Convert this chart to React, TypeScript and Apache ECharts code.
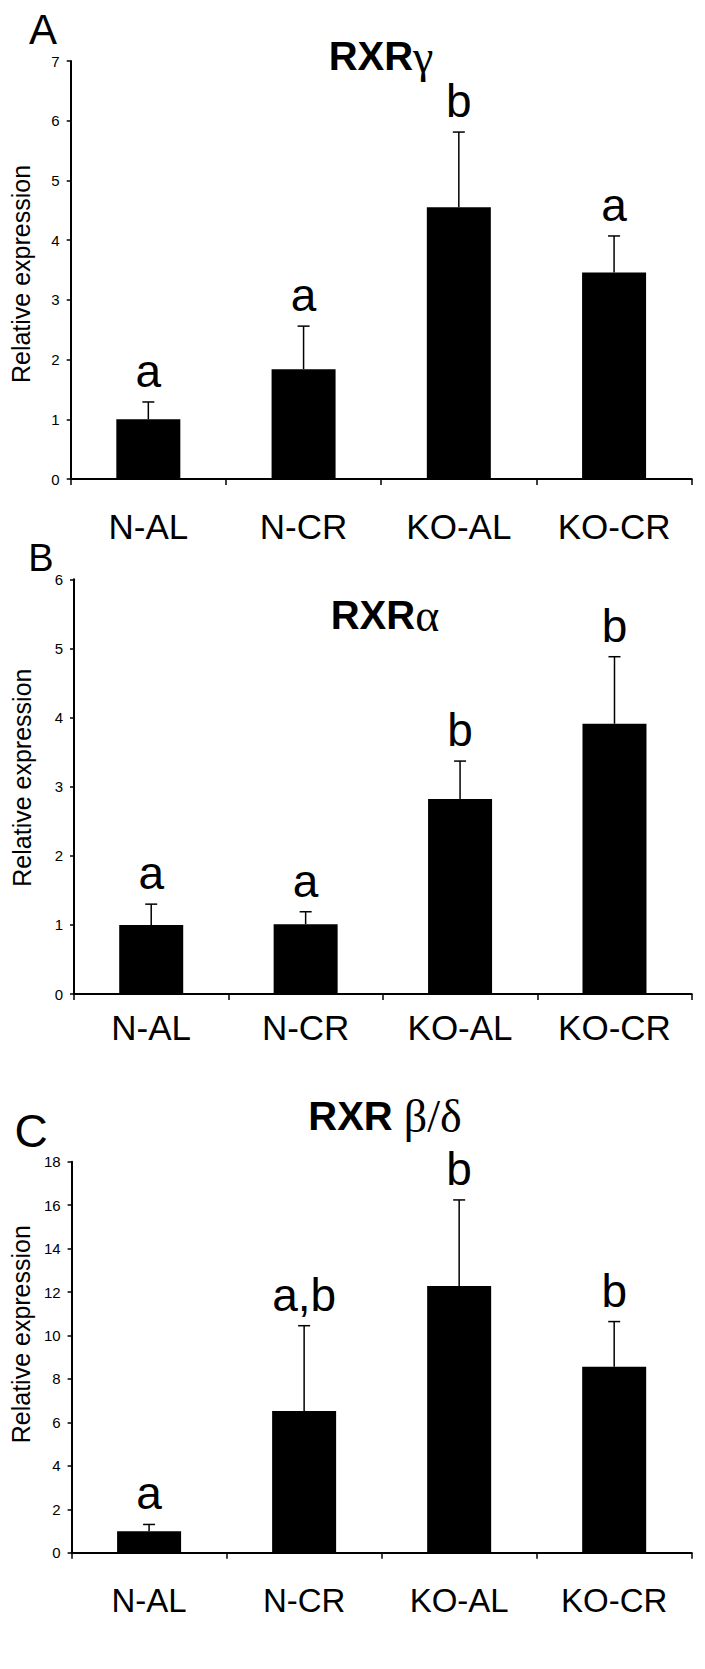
import React, { useEffect, useRef } from 'react';
import * as echarts from 'echarts';

// ---- data ----
const categories = ['N-AL', 'N-CR', 'KO-AL', 'KO-CR'];

const gammaMean = [1.0, 1.84, 4.55, 3.46];
const gammaErr = [0.29, 0.72, 1.26, 0.61];
const gammaLetters = ['a', 'a', 'b', 'a'];

const alphaMean = [1.0, 1.01, 2.82, 3.91];
const alphaErr = [0.3, 0.18, 0.55, 0.97];
const alphaLetters = ['a', 'a', 'b', 'b'];

const betaMean = [0.99, 6.52, 12.28, 8.56];
const betaErr = [0.31, 3.93, 3.96, 2.08];
const betaLetters = ['a', 'a,b', 'b', 'b'];

const yMaxes = [7, 6, 18];
const yIntervals = [1, 1, 2];
const titlesMain = ['RXR', 'RXR', 'RXR '];
const titlesGreek = ['γ', 'α', 'β/δ'];
const panelLetters = ['A', 'B', 'C'];
const yAxisTitle = 'Relative expression';

const SANS = '"Liberation Sans", Arial, Helvetica, sans-serif';
const SERIF = '"Liberation Serif", "Times New Roman", serif';

export default function App() {
  const ref = useRef<HTMLDivElement>(null);

  useEffect(() => {
    document.body.style.margin = '0';
    if (!ref.current) return;
    const chart = echarts.init(ref.current, undefined, { renderer: 'svg' });

    const means = [gammaMean, alphaMean, betaMean];
    const errs = [gammaErr, alphaErr, betaErr];
    const letters = [gammaLetters, alphaLetters, betaLetters];

    const layout = [
      { left: 70.7, top: 61, width: 621, height: 418, catFont: 35, catMargin: 30, nameGap: 37, namePad: [0, 8, 0, 0],
        title: [381, 56], letter: [43, 29], letterSize: 42 },
      { left: 74, top: 579.3, width: 617.7, height: 414.7, catFont: 35, catMargin: 16, nameGap: 40, namePad: [0, 0, 0, 18],
        title: [385, 615], letter: [41, 558], letterSize: 38 },
      { left: 68.3, top: 1161.7, width: 623.4, height: 391, catFont: 33, catMargin: 31, nameGap: 35, namePad: [0, 0, 0, 46],
        title: [385, 1116], letter: [31, 1131], letterSize: 46 },
    ];

    const grid = layout.map((l) => ({ left: l.left, top: l.top, width: l.width, height: l.height }));

    const xAxis = layout.map((l, i) => ({
      type: 'category',
      gridIndex: i,
      data: categories,
      axisLine: { show: true, lineStyle: { color: '#000', width: 2 } },
      axisTick: { show: true, length: 6, lineStyle: { color: '#000', width: 1.5 } },
      axisLabel: { color: '#000', fontSize: l.catFont, fontFamily: SANS, margin: l.catMargin, interval: 0 },
      splitLine: { show: false },
    }));

    const yAxis = layout.map((l, i) => ({
      type: 'value',
      gridIndex: i,
      min: 0,
      max: yMaxes[i],
      interval: yIntervals[i],
      axisLine: { show: true, lineStyle: { color: '#000', width: 2 } },
      axisTick: { show: true, length: 4, lineStyle: { color: '#000', width: 1.5 } },
      axisLabel: { color: '#000', fontSize: 15, fontFamily: SANS, margin: 11 },
      splitLine: { show: false },
      name: yAxisTitle,
      nameLocation: 'middle',
      nameGap: l.nameGap,
      nameTextStyle: { fontSize: 25, color: '#000', fontFamily: SANS, padding: l.namePad },
    }));

    const series: any[] = [];
    layout.forEach((l, i) => {
      series.push({
        type: 'bar',
        xAxisIndex: i,
        yAxisIndex: i,
        data: means[i],
        barWidth: 64,
        itemStyle: { color: '#000' },
        z: 2,
      });
      const lets = letters[i];
      series.push({
        type: 'custom',
        xAxisIndex: i,
        yAxisIndex: i,
        z: 3,
        data: means[i].map((m, j) => [j, m, m + errs[i][j]]),
        renderItem: (params: any, api: any) => {
          const x = api.value(0);
          const p0 = api.coord([x, api.value(1)]);
          const p1 = api.coord([x, api.value(2)]);
          const half = 6;
          return {
            type: 'group',
            children: [
              { type: 'line', shape: { x1: p0[0], y1: p0[1], x2: p1[0], y2: p1[1] }, style: { stroke: '#000', lineWidth: 1.5 } },
              { type: 'line', shape: { x1: p1[0] - half, y1: p1[1], x2: p1[0] + half, y2: p1[1] }, style: { stroke: '#000', lineWidth: 1.5 } },
              {
                type: 'text',
                style: {
                  text: lets[params.dataIndex],
                  x: p1[0],
                  y: p1[1] - 8,
                  align: 'center',
                  verticalAlign: 'bottom',
                  textAlign: 'center',
                  textVerticalAlign: 'bottom',
                  font: `46px ${SANS}`,
                  fill: '#000',
                },
              },
            ],
          };
        },
      });
    });

    const graphic: any[] = [];
    layout.forEach((l, i) => {
      graphic.push({
        type: 'text',
        x: l.title[0],
        y: l.title[1],
        style: {
          text: `{b|${titlesMain[i]}}{g|${titlesGreek[i]}}`,
          rich: {
            b: { fontSize: 40, fontWeight: 'bold', fontFamily: SANS, fill: '#000' },
            g: { fontSize: 46, fontFamily: SERIF, fill: '#000' },
          },
          align: 'center',
          verticalAlign: 'middle',
          textAlign: 'center',
          textVerticalAlign: 'middle',
        },
      });
      graphic.push({
        type: 'text',
        x: l.letter[0],
        y: l.letter[1],
        style: {
          text: panelLetters[i],
          font: `${l.letterSize}px ${SANS}`,
          fill: '#000',
          align: 'center',
          verticalAlign: 'middle',
          textAlign: 'center',
          textVerticalAlign: 'middle',
        },
      });
    });

    chart.setOption({
      animation: false,
      backgroundColor: '#fff',
      grid,
      xAxis,
      yAxis,
      series,
      graphic,
    } as any);

    return () => chart.dispose();
  }, []);

  return <div ref={ref} style={{ width: 705, height: 1669 }} />;
}
